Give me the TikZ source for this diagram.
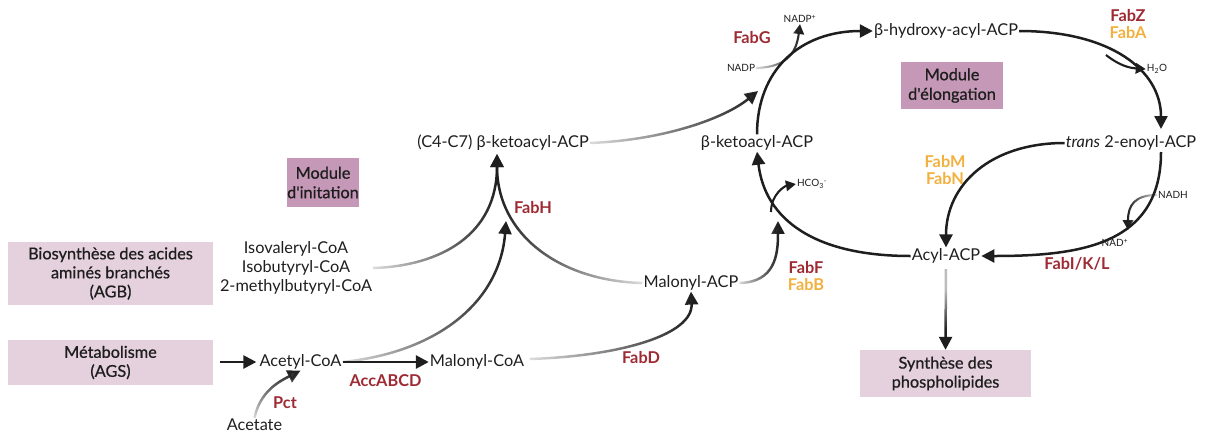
\documentclass[tikz,border=0pt]{standalone}
\usepackage{fontspec}
\setmainfont{Lato}
\newfontfamily\medfont[FakeBold=0.7]{Lato}
\usetikzlibrary{arrows.meta,fadings}
\definecolor{enzred}{HTML}{9E2A33}
\definecolor{enzorange}{HTML}{F2B03E}
\definecolor{lightbox}{HTML}{E4D1DD}
\definecolor{modbox}{HTML}{C498B6}
\definecolor{ink}{HTML}{1E1E1E}
\newcommand{\sq}{{\char"27}}
\tikzfading[name=fadein, left color=transparent!85, middle color=transparent!0, right color=transparent!0]
\tikzfading[name=fadedown, top color=transparent!70, middle color=transparent!0, bottom color=transparent!0]
\tikzset{
  lbl/.style={font=\fontsize{16.3}{19}\selectfont, text=ink, inner sep=1pt, align=center},
  small/.style={font=\fontsize{10}{12}\selectfont, text=ink, inner sep=1pt},
  ered/.style={font=\fontsize{16.3}{19}\selectfont\bfseries, text=enzred, inner sep=1pt, align=center},
  eorange/.style={font=\fontsize{16.3}{19}\selectfont\bfseries, text=enzorange, inner sep=1pt},
  srcbox/.style={fill=lightbox, font=\medfont\fontsize{16.3}{19}\selectfont, text=ink, align=center, inner sep=0pt},
  modulebox/.style={fill=modbox, font=\medfont\fontsize{16.3}{19.5}\selectfont, text=ink, align=center, inner sep=0pt},
  arr/.style={draw=ink, line width=2.5pt, -{Triangle[length=13pt,width=13pt]}},
  arrsmall/.style={draw=ink, line width=2.1pt, -{Triangle[length=10pt,width=10.5pt]}},
  fade/.style={path fading=fadein, fading angle=#1, fit fading=true}
}
\begin{document}
\begin{tikzpicture}[x=1pt,y=-1pt]
\useasboundingbox (0,0) rectangle (1207,432);
% boxes
\node[srcbox, minimum width=205pt, minimum height=63pt] (agb) at (110.5,273.5) {Biosynthèse des acides\\aminés branchés\\(AGB)};
\node[srcbox, minimum width=205pt, minimum height=45pt] (ags) at (110.5,362.5) {Métabolisme\\(AGS)};
\node[modulebox, minimum width=68pt, minimum height=49pt] (modi) at (323,182.5) {Module\\d\sq initation};
\node[modulebox, minimum width=102pt, minimum height=47pt] (mode) at (952,85.5) {Module\\d\sq élongation};
\node[srcbox, minimum width=171pt, minimum height=47pt] (synth) at (945.5,373.5) {Synthèse des\\phospholipides};
% metabolites
\node[lbl] (iso) at (296,268) {Isovaleryl-CoA\\Isobutyryl-CoA\\2-methylbutyryl-CoA};
\node[lbl] (c4) at (503,143) {(C4-C7) β-ketoacyl-ACP};
\node[lbl] (macp) at (691,283) {Malonyl-ACP};
\node[lbl] (acetyl) at (300.5,362) {Acetyl-CoA};
\node[lbl] (mcoa) at (477,362) {Malonyl-CoA};
\node[lbl] (acetate) at (254.5,425) {Acetate};
\node[lbl] (bk) at (757,143) {β-ketoacyl-ACP};
\node[lbl] (bh) at (946,31) {β-hydroxy-acyl-ACP};
\node[lbl] (trans) at (1131,143) {\textit{trans} 2-enoyl-ACP};
\node[lbl] (acyl) at (946,256) {Acyl-ACP};
% small cofactors
\node[small] (nadp) at (741,68) {NADP};
\node[small] (nadpp) at (800,19) {NADP\textsuperscript{+}};
\node[small] (h2o) at (1157,69) {H\textsubscript{2}O};
\node[small] (hco) at (812,184) {HCO\textsubscript{3}\textsuperscript{-}};
\node[small] (nadh) at (1173,195) {NADH};
\node[small] (nadplus) at (1115,243) {NAD\textsuperscript{+}};
% enzymes
\node[ered] (fabh) at (533,208) {FabH};
\node[ered] (fabf) at (806,268) {FabF};
\node[eorange] (fabb) at (806,285) {FabB};
\node[ered] (accabcd) at (385.5,381) {AccABCD};
\node[ered] (fabd) at (641,358) {FabD};
\node[ered] (pct) at (285,403) {Pct};
\node[ered] (fabg) at (752,38) {FabG};
\node[ered] (fabz) at (1128,16) {FabZ};
\node[eorange] (faba) at (1128,33) {FabA};
\node[eorange] (fabm) at (945,162) {FabM};
\node[eorange] (fabn) at (945,179) {FabN};
\node[ered] (fabi) at (1077,264) {FabI/K/L};
% helper coordinates
\coordinate (c4in) at (497,154);
\coordinate (hTip) at (506,221);
\coordinate (gTip) at (758,91);
\coordinate (h2oStart) at (1106,55);
\coordinate (hcoStart) at (771,212);
\coordinate (fTip) at (778,221);
\coordinate (eTip) at (1128,230);
\coordinate (tStart) at (1161,152);
\coordinate (tEnd) at (1161,129);
\coordinate (agsOut) at (220,362);
\coordinate (mOut) at (530,359);
% initiation
\draw[arr, fade=0] (iso.east) .. controls (440,266) and (497,235) .. (c4in);
\draw[arr, fade=180] (macp.west) .. controls (560,281) and (497,235) .. (c4in);
\draw[arr, fade=0] (acetyl.east) .. controls (440,352) and (500,300) .. (hTip);
\draw[arr] (agsOut) -- ([xshift=-2pt]acetyl.west);
\draw[arr, line width=2.9pt] (acetyl.east) -- (mcoa.west);
\draw[arr, fade=90] (acetate.north) .. controls (260,392) and (278,382) .. (acetyl.south);
\draw[arr, fade=0] (mOut) .. controls (620,356) and (693,335) .. (macp.south);
% elongation
\draw[arr, fade=0] (c4.east) .. controls (665,140) and (725,118) .. (gTip);
\draw[arr] (bk.north) .. controls (757,70) and (800,31) .. (bh.west);
\draw[arrsmall, fade=0] (nadp.east) .. controls (785,67) and (796,55) .. (nadpp.south);
\draw[arr] (bh.east) .. controls (1110,31) and (1161,70) .. (tEnd);
\draw[arrsmall] (h2oStart) .. controls (1120,66) and (1130,68) .. (h2o.west);
\draw[arr] (tStart) .. controls (1161,245) and (1080,256) .. (acyl.east);
\draw[arrsmall, fade=180] (nadh.west) .. controls (1135,195) and (1128,205) .. (eTip);
\draw[arr] (trans.west) .. controls (990,143) and (946,185) .. (acyl.north);
\draw[arr] (acyl.west) .. controls (815,256) and (765,220) .. (bk.south);
\draw[arr, fade=0] (macp.east) .. controls (775,282) and (778,255) .. (fTip);
\draw[arrsmall] (hcoStart) .. controls (771,194) and (785,186) .. (hco.west);
\draw[arr, path fading=fadedown, fit fading=false, fading transform={shift={(946,310)}, yscale=0.82}] (acyl.south) -- (synth.north);
\end{tikzpicture}
\end{document}
